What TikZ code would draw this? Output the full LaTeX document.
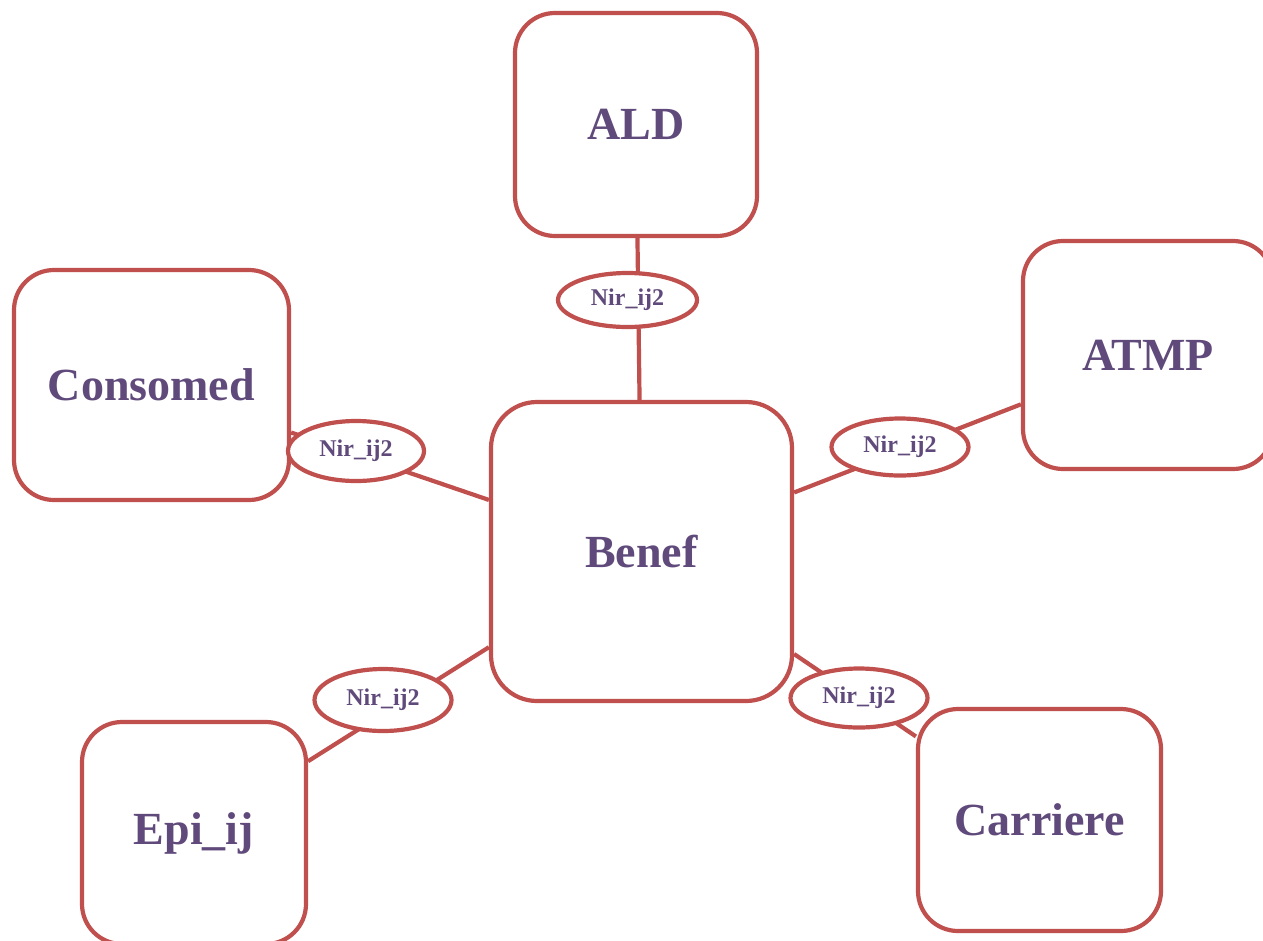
\documentclass[tikz,border=0pt]{standalone}
\usepackage{fontspec}
\setmainfont{Liberation Serif}
\usetikzlibrary{shapes.geometric,backgrounds}
\definecolor{boxred}{HTML}{C0504D}
\definecolor{txtpurple}{HTML}{604A7B}
\begin{document}
\begin{tikzpicture}[x=1pt,y=-1pt,
  ent/.style={draw=boxred,line width=4.2pt,fill=white,rounded corners=40pt,
    text=txtpurple,font=\fontsize{46}{50}\selectfont\bfseries,inner sep=0pt},
  rel/.style={draw=boxred,line width=4.2pt,fill=white,ellipse,inner sep=0pt,
    minimum width=136pt,minimum height=56pt,
    text=txtpurple,font=\fontsize{24}{26}\selectfont\bfseries},
  link/.style={draw=boxred,line width=4.2pt}]
\useasboundingbox (0,0) rectangle (1263,940);
\clip (0,0) rectangle (1263,940);
\node[ent,minimum width=242pt,minimum height=223pt] (ALD) at (636,124.5) {ALD};
\node[ent,minimum width=275pt,minimum height=230pt] (Cons) at (151.5,385) {Consomed};
\node[ent,minimum width=250pt,minimum height=228pt] (ATMP) at (1148,355) {ATMP};
\node[ent,minimum width=301pt,minimum height=299pt,rounded corners=46pt] (Benef) at (641.5,551.5) {Benef};
\node[ent,minimum width=224pt,minimum height=222pt] (Epi) at (194,833) {Epi\_ij};
\node[ent,minimum width=243pt,minimum height=222pt] (Carr) at (1039.5,820) {Carriere};
\node[rel,minimum width=139pt,minimum height=54pt] (r1) at (627.5,300) {Nir\_ij2};
\node[rel,minimum height=60pt] (r2) at (356,451) {Nir\_ij2};
\node[rel,minimum width=137pt,minimum height=57pt] (r3) at (900,447) {Nir\_ij2};
\node[rel,minimum width=137pt,minimum height=62pt] (r4) at (383,700) {Nir\_ij2};
\node[rel,minimum width=137pt,minimum height=59pt] (r5) at (859,698) {Nir\_ij2};
\begin{pgfonlayer}{background}
\draw[link] (ALD) -- (Benef);
\draw[link] (Cons) -- (Benef);
\draw[link] (ATMP) -- (Benef);
\draw[link] (Epi) -- (Benef);
\draw[link] (Carr) -- (Benef);
\end{pgfonlayer}
\end{tikzpicture}
\end{document}
